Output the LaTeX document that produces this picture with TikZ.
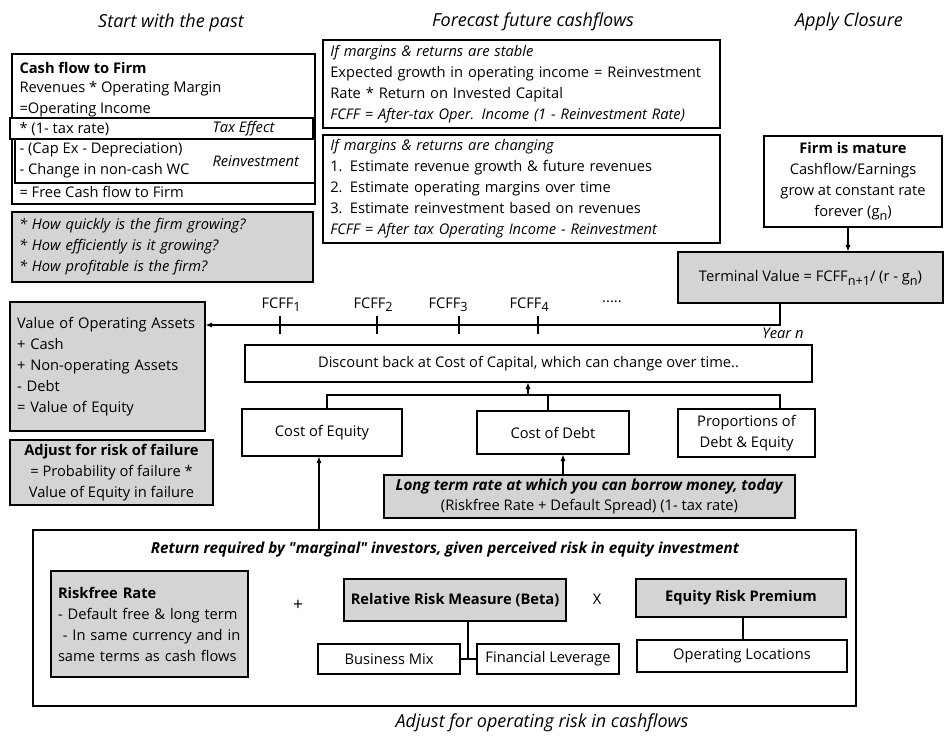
\documentclass[tikz,border=0pt]{standalone}
\usepackage{fontspec}
\setmainfont{Open Sans}
\usetikzlibrary{arrows.meta}
\definecolor{boxgray}{RGB}{212,212,212}
\newcommand{\dnsub}[1]{\raisebox{-0.5ex}{\fontsize{9.5}{10}\selectfont #1}}

\begin{document}
\begin{tikzpicture}[x=0.75pt, y=-0.75pt, line width=0.8pt,
    font=\fontsize{11}{15.75}\selectfont,
    wbox/.style={draw, fill=white, inner sep=0pt},
    gbox/.style={draw, fill=boxgray, inner sep=0pt},
    txt/.style={anchor=west, inner sep=0pt},
    head/.style={font=\fontsize{13.5}{16}\selectfont\itshape},
    arr/.style={-{Latex[length=5pt,width=4pt]}}]
    \useasboundingbox (0,0) rectangle (950,740);

    % column headings
    \node[head] (hpast) at (171,23) {Start with the past};
    \node[head] (hfore) at (533,22) {Forecast future cashflows};
    \node[head] (hclose) at (849,22) {Apply Closure};

    % start with the past
    \node[wbox, minimum width=227.25pt, minimum height=112.5pt] (cff) at (163.5,129) {};
    \node[wbox, minimum width=227.25pt, minimum height=15.75pt] (tax) at (161.5,128.5) {};
    \node[wbox, minimum width=225pt, minimum height=33pt] (reinv) at (165,161) {};
    \node[txt, font=\fontsize{11}{12}\selectfont\bfseries] (cff1) at (19,68) {Cash flow to Firm};
    \node[txt] (cff2) at (19,89) {Revenues * Operating Margin};
    \node[txt] (cff3) at (19,110) {=Operating Income};
    \node[txt] (cff4) at (19,129) {* (1- tax rate)};
    \node[txt, font=\fontsize{11}{12}\selectfont\itshape] (taxlbl) at (212,129) {Tax Effect};
    \node[txt] (cff5) at (19,150) {- (Cap Ex - Depreciation)};
    \node[txt] (cff6) at (19,171) {- Change in non-cash WC};
    \node[txt, font=\fontsize{11}{12}\selectfont\itshape] (reinvlbl) at (212,161) {Reinvestment};
    \node[txt] (cff7) at (19,192) {= Free Cash flow to Firm};
    \node[gbox, minimum width=225.75pt, minimum height=52.5pt, inner xsep=5.25pt,
        text width=215.25pt, align=left, font=\fontsize{11}{15.75}\selectfont\itshape] (quest) at (162.5,247)
        {{*} How quickly is the firm growing?\\ {*} How efficiently is it growing?\\ {*} How profitable is the firm?};

    % forecast future cashflows
    \node[wbox, minimum width=297.75pt, minimum height=66pt, inner xsep=5.5pt,
        text width=286.75pt, align=left] (stable) at (521.5,84)
        {\textit{If margins \& returns are stable}\\ Expected growth in operating income = Reinvestment\\
         Rate * Return on Invested Capital\\ \textit{FCFF = After-tax Oper. Income (1 - Reinvestment Rate)}};
    \node[wbox, minimum width=297.75pt, minimum height=81pt, inner xsep=5.5pt,
        text width=286.75pt, align=left] (changing) at (521.5,189)
        {\textit{If margins \& returns are changing}\\ 1. Estimate revenue growth \& future revenues\\
         2. Estimate operating margins over time\\ 3. Estimate reinvestment based on revenues\\
         \textit{FCFF = After tax Operating Income - Reinvestment}};

    % apply closure
    \node[wbox, minimum width=133.5pt, minimum height=68.25pt, align=center] (mature) at (853,181.5)
        {\textbf{Firm is mature}\\ Cashflow/Earnings\\ grow at constant rate\\ forever (g\dnsub{n})};
    \node[gbox, minimum width=198.75pt, minimum height=38.25pt] (terminal) at (810.5,277.5)
        {Terminal Value = FCFF\dnsub{n+1}/ (r - g\dnsub{n})};
    \draw[arr] (mature.south -| 848,0) -- (terminal.north -| 848,0);

    % value of equity
    \node[gbox, minimum width=146.25pt, minimum height=96.75pt, inner xsep=5.25pt,
        text width=135.75pt, align=left] (value) at (107.5,366.5)
        {Value of Operating Assets\\ + Cash\\ + Non-operating Assets\\ - Debt\\ = Value of Equity};
    \node[gbox, minimum width=152.25pt, minimum height=48.75pt, align=center] (failure) at (111.5,472.5)
        {\textbf{Adjust for risk of failure}\\ = Probability of failure *\\ Value of Equity in failure};

    % timeline
    \coordinate (yearn) at (780,325);
    \draw[arr] (terminal.south -| yearn) -- (yearn) -- (value.east |- yearn);
    \foreach \x/\lx/\n in {280/261/1, 377/353/2, 459/428/3, 538/509/4} {
        \draw (\x,316) -- (\x,334);
        \node[anchor=base west, inner sep=0pt] (fcff\n) at (\lx,308) {FCFF\dnsub{\n}};
    }
    \node[inner sep=0pt] (dots) at (612,302) {.....};
    \node[inner sep=0pt, font=\fontsize{11}{12}\selectfont\itshape] (yearlbl) at (783,333) {Year n};

    % cost of capital
    \node[wbox, minimum width=425.25pt, minimum height=27.75pt] (discount) at (528.5,363.5)
        {Discount back at Cost of Capital, which can change over time..};
    \node[wbox, minimum width=120pt, minimum height=35.25pt] (coe) at (322,432.5) {Cost of Equity};
    \node[wbox, minimum width=114pt, minimum height=32.25pt] (cod) at (553,432.5) {Cost of Debt};
    \node[wbox, minimum width=102.75pt, minimum height=36pt, align=center] (prop) at (746.5,433)
        {Proportions of\\ Debt \& Equity};
    \coordinate (bus) at (528,395);
    \draw (coe.north -| 327,0) -- (327,395) -- (780,395) -- (prop.north -| 780,0);
    \draw (cod.north -| 548,0) -- (548,395);
    \draw[arr] (bus) -- (discount.south -| bus);

    \node[gbox, minimum width=308.25pt, minimum height=32.25pt, align=center, font=\fontsize{11}{14.5}\selectfont] (longterm) at (589.5,496.5)
        {\fontsize{11.4}{14.5}\selectfont\textbf{\textit{Long term rate at which you can borrow money, today}}\\ (Riskfree Rate + Default Spread) (1- tax rate)};
    \draw[arr] (longterm.north -| 563,0) -- (cod.south -| 563,0);

    % cost of equity inputs
    \node[wbox, minimum width=617.25pt, minimum height=132pt] (required) at (444.5,618) {};
    \node[inner sep=0pt, font=\fontsize{11.4}{12}\selectfont\bfseries\itshape] (reqlbl) at (445,550)
        {Return required by \textquotedbl marginal\textquotedbl{} investors, given perceived risk in equity investment};
    \draw[arr] (required.north -| 319,0) -- (coe.south -| 319,0);

    \node[gbox, minimum width=147.75pt, minimum height=79.5pt, inner xsep=5.25pt,
        text width=137.25pt, align=left] (riskfree) at (149.5,624)
        {\textbf{Riskfree Rate}\\ - Default free \& long term\\ \ - In same currency and in\\ same terms as cash flows};
    \node[inner sep=0pt, font=\fontsize{13}{14}\selectfont] (plus) at (298,605) {+};
    \node[gbox, minimum width=166.5pt, minimum height=31.5pt, font=\fontsize{11}{12}\selectfont\bfseries] (beta) at (455,600)
        {Relative Risk Measure (Beta)};
    \node[inner sep=0pt] (times) at (597,599) {X};
    \node[gbox, minimum width=157.5pt, minimum height=28.5pt, font=\fontsize{11}{12}\selectfont\bfseries] (erp) at (741,598)
        {Equity Risk Premium};
    \node[wbox, minimum width=106.5pt, minimum height=22.5pt] (bizmix) at (389,659) {Business Mix};
    \node[wbox, minimum width=106.5pt, minimum height=22.5pt] (finlev) at (548,659) {Financial Leverage};
    \node[wbox, minimum width=157.5pt, minimum height=24pt] (oploc) at (742,656) {Operating Locations};
    \draw (beta.south -| 468,0) -- (468,659);
    \draw (bizmix.east) -- (finlev.west);
    \draw (erp.south -| 743,0) -- (oploc.north -| 743,0);

    \node[head] (hrisk) at (542,723) {Adjust for operating risk in cashflows};
\end{tikzpicture}
\end{document}
